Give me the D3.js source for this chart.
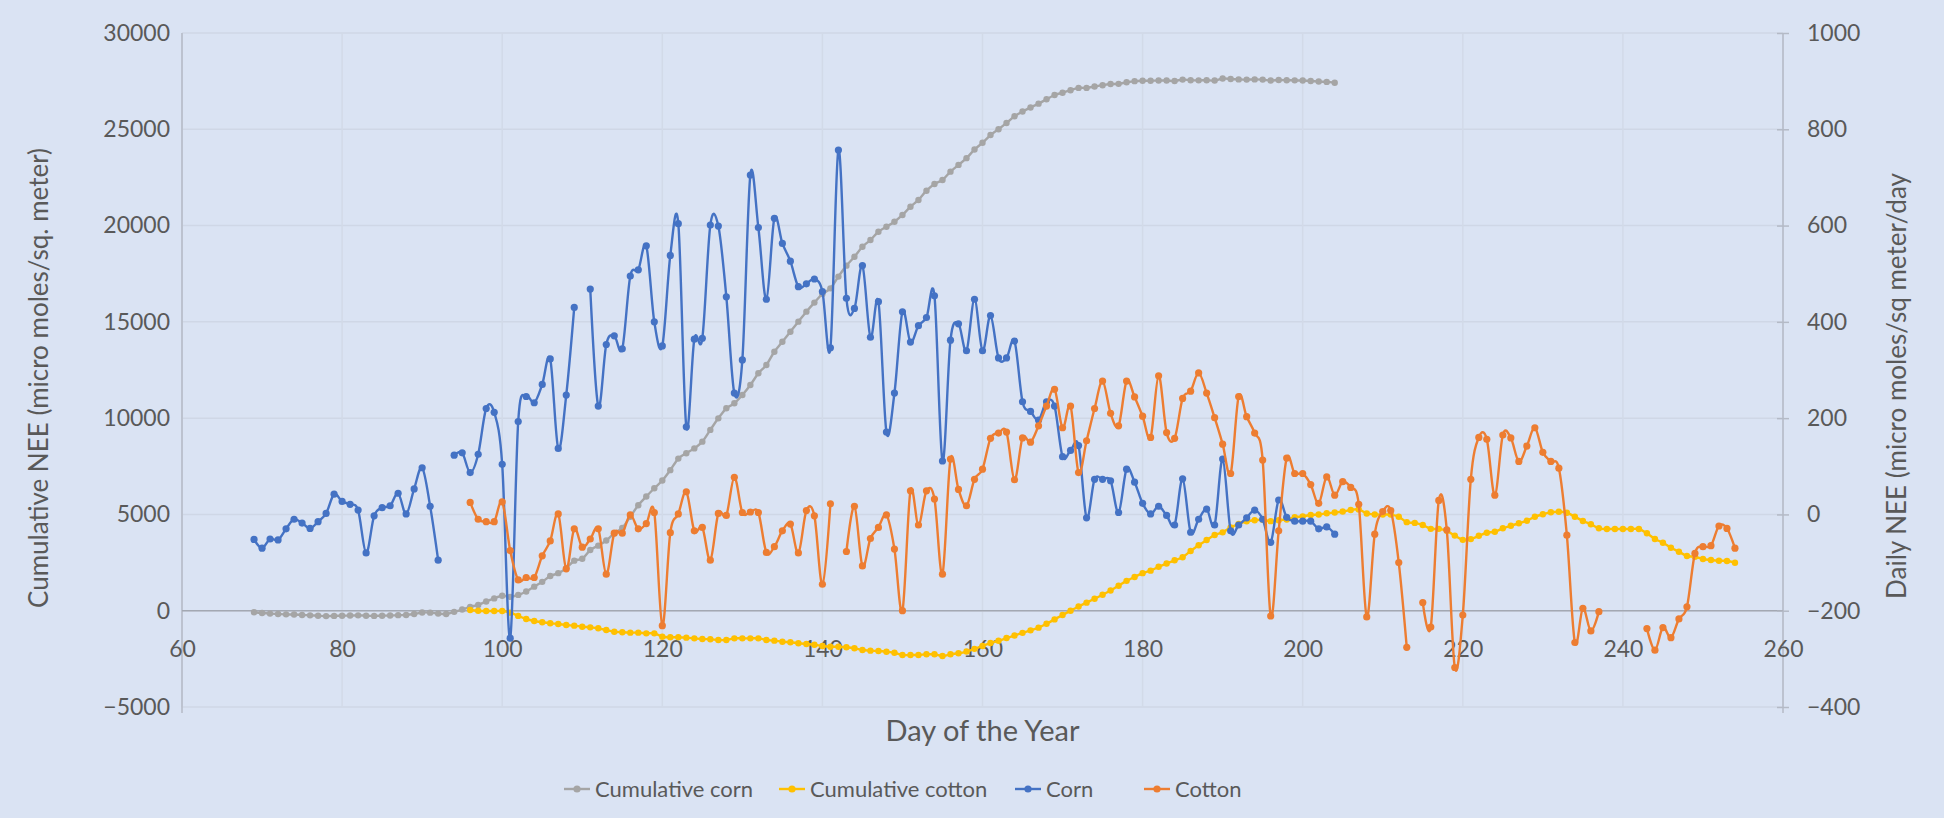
<!DOCTYPE html>
<html><head><meta charset="utf-8">
<script src="https://cdn.jsdelivr.net/npm/d3@7"></script>
<style>
body{margin:0;background:#dae3f3;}
svg{display:block;font-family:Lato,'Open Sans',sans-serif;}
</style>
</head><body>
<svg id="chart" width="1944" height="818"></svg>
<script>
// ---------- DATA ----------
const xTicks = [60,80,100,120,140,160,180,200,220,240,260];
const leftTicks = [-5000,0,5000,10000,15000,20000,25000,30000];
const rightTicks = [-400,-200,0,200,400,600,800,1000];
const seriesNames = ["Cumulative corn","Cumulative cotton","Corn","Cotton"];
const seriesColors = ["#a5a5a5","#ffc000","#4472c4","#ed7d31"];

// Cumulative corn (left axis), days 69..204
const cumCornFirstDay = 69;
const cumCorn = [
-80,-120,-150,-170,-190,-200,-220,-240,-260,-280,-270,-260,-250,-240,-260,-270,-260,-250,-230,-220,
-170,-90,-100,-150,-170,-60,60,200,300,480,640,780,720,820,1000,1250,1500,1800,1950,2200,
2600,2700,3150,3380,3650,4020,4300,4880,5480,5930,6360,6760,7300,7900,8180,8430,8780,9390,9990,10510,
10770,11200,11720,12330,12760,13450,13970,14490,15010,15530,16000,16450,16740,17350,17920,18380,18900,19250,19680,19940,
20200,20550,20980,21330,21810,22160,22370,22800,23150,23500,23950,24300,24700,25000,25330,25680,25920,26130,26330,26560,
26780,26900,27030,27150,27150,27220,27290,27350,27360,27440,27500,27520,27520,27530,27530,27510,27580,27550,27540,27550,
27530,27640,27610,27590,27580,27590,27580,27530,27560,27550,27540,27530,27510,27480,27460,27420
];

// Cumulative cotton (left axis), days 96..254
const cumCottonFirstDay = 96;
const cumCotton = [
37,0,-15,-15,-15,-100,-270,-430,-534,-600,-654,-690,-742,-776,-830,-864,-914,-1000,-1090,-1120,
-1140,-1140,-1175,-1175,-1350,-1380,-1380,-1400,-1435,-1470,-1485,-1520,-1520,-1435,-1435,-1435,-1435,-1520,-1555,-1610,
-1640,-1690,-1728,-1765,-1832,-1870,-1870,-1900,-1950,-2040,-2075,-2092,-2128,-2180,-2300,-2300,-2300,-2264,-2264,-2352,
-2264,-2210,-2120,-1980,-1830,-1680,-1560,-1420,-1290,-1150,-1020,-880,-680,-450,-220,0,220,420,620,830,
1050,1300,1550,1750,1950,2080,2280,2450,2620,2780,3100,3400,3670,3930,4070,4330,4500,4640,4700,4720,
4650,4700,4740,4850,4900,4970,5000,5060,5100,5150,5230,5260,5050,5000,4990,4990,4880,4600,4560,4450,
4250,4250,4150,3900,3680,3720,3890,4050,4100,4280,4415,4540,4675,4880,5010,5110,5140,5090,4880,4660,
4490,4280,4243,4243,4243,4243,4243,4020,3724,3532,3272,3065,2842,2805,2686,2634,2597,2582,2494
];

// Daily corn NEE (right axis), days 69..204 (null = missing)
const cornFirstDay = 69;
const cornDaily = [
-52,-70,-51,-53,-30,-10,-18,-29,-15,2,42,27,21,9,-80,-3,14,18,44,1,
53,97,17,-95,null,123,128,87,125,220,212,104,-257,193,245,232,270,323,137,248,
430,null,468,225,353,371,344,495,508,558,400,350,538,604,182,364,366,601,599,452,
252,321,705,596,447,615,563,526,473,479,489,463,346,757,449,428,517,368,442,171,
252,421,358,392,409,454,111,362,396,340,447,340,413,325,325,360,234,214,196,234,
225,120,133,143,-7,73,73,70,4,94,67,23,1,17,-2,-22,74,-37,-10,11,
-22,115,-34,-22,-7,9,-10,-58,30,-6,-14,-14,-14,-30,-26,-41
];

// Daily cotton NEE (right axis), days 96..254 (null = missing)
const cottonFirstDay = 96;
const cottonDaily = [
25,-10,-15,-15,26,-75,-136,-131,-131,-86,-55,1,-113,-30,-68,-51,-30,-124,-39,-39,
-1,-30,-19,4,-231,-38,1,47,-34,-27,-95,2,-2,77,4,5,4,-79,-67,-34,
-20,-80,8,-3,-145,22,null,-77,17,-107,-50,-27,-1,-72,-200,49,-22,49,32,-124,
115,52,18,73,94,158,169,171,72,159,150,184,225,260,180,225,87,153,220,277,
210,184,277,244,204,160,288,170,158,241,256,294,252,201,146,85,245,203,169,113,
-211,-34,117,85,85,62,23,78,40,68,56,21,-213,-41,6,8,-100,-276,null,-183,
-234,29,-32,-318,-209,73,160,156,40,165,159,110,142,180,129,110,96,-43,-266,-195,
-242,-202,null,null,null,null,null,-237,-282,-235,-256,-217,-192,-81,-67,-65,-24,-29,-70
];

// ---------- CHART ----------
const svg = d3.select("#chart");
const W = 1944, H = 818;
const m = {left:182, right:1783, top:33, bottom:707};
svg.append("rect").attr("width",W).attr("height",H).attr("fill","#dae3f3");

const x = d3.scaleLinear().domain([60,260]).range([m.left,m.right]);
const yL = d3.scaleLinear().domain([-5000,30000]).range([m.bottom,m.top]);
const yR = d3.scaleLinear().domain([-400,1000]).range([m.bottom,m.top]);

const grid = svg.append("g");
grid.selectAll("line.h").data(leftTicks).join("line")
  .attr("x1",m.left).attr("x2",m.right)
  .attr("y1",d=>yL(d)).attr("y2",d=>yL(d))
  .attr("stroke","#cfd7e6").attr("stroke-width",1.5);
grid.selectAll("line.v").data(xTicks).join("line")
  .attr("x1",d=>x(d)).attr("x2",d=>x(d))
  .attr("y1",m.top).attr("y2",m.bottom)
  .attr("stroke","#d2dae8").attr("stroke-width",1.5);

// axes lines
svg.append("line").attr("x1",m.left).attr("x2",m.left).attr("y1",m.top).attr("y2",m.bottom+6)
  .attr("stroke","#b4bac6").attr("stroke-width",1.5);
svg.append("line").attr("x1",m.right).attr("x2",m.right).attr("y1",m.top).attr("y2",m.bottom+6)
  .attr("stroke","#b4bac6").attr("stroke-width",1.5);
svg.append("line").attr("x1",m.left).attr("x2",m.right).attr("y1",yL(0)).attr("y2",yL(0))
  .attr("stroke","#a3a8b2").attr("stroke-width",1.5);

const tickColor = "#595959";
// left axis
const gL = svg.append("g").attr("transform",`translate(${m.left},0)`)
  .call(d3.axisLeft(yL).tickValues(leftTicks).tickFormat(d3.format("d")).tickSize(0).tickPadding(12));
// right axis
const gR = svg.append("g").attr("transform",`translate(${m.right},0)`)
  .call(d3.axisRight(yR).tickValues(rightTicks).tickFormat(d3.format("d")).tickSize(8).tickPadding(16));
// bottom axis (labels placed below the zero line)
const gX = svg.append("g").attr("transform",`translate(0,${yL(0)})`)
  .call(d3.axisBottom(x).tickValues(xTicks).tickFormat(d3.format("d")).tickSize(0).tickPadding(30));
[gL,gR,gX].forEach(g=>{
  g.select(".domain").remove();
  g.selectAll("text").attr("fill",tickColor).attr("font-size",23).attr("font-family","Lato");
  g.selectAll("line").attr("stroke","#b4bac6").attr("stroke-width",1.5);
});
gR.selectAll(".tick line").attr("x1",-6).attr("x2",6);

// titles
svg.append("text").attr("transform",`translate(48,378) rotate(-90)`)
  .attr("text-anchor","middle").attr("fill",tickColor).attr("font-size",26)
  .text("Cumulative NEE (micro moles/sq. meter)");
svg.append("text").attr("transform",`translate(1906,386) rotate(-90)`)
  .attr("text-anchor","middle").attr("fill",tickColor).attr("font-size",26)
  .text("Daily NEE (micro moles/sq meter/day");
svg.append("text").attr("x",(m.left+m.right)/2).attr("y",741)
  .attr("text-anchor","middle").attr("fill",tickColor).attr("font-size",29)
  .text("Day of the Year");

// series
function mk(first, vals){ return vals.map((v,i)=>({d:first+i, v})); }
const series = [
  {data:mk(cumCornFirstDay,cumCorn), y:yL, c:seriesColors[0], r:3.2},
  {data:mk(cumCottonFirstDay,cumCotton), y:yL, c:seriesColors[1], r:3.2},
  {data:mk(cornFirstDay,cornDaily), y:yR, c:seriesColors[2], r:3.6},
  {data:mk(cottonFirstDay,cottonDaily), y:yR, c:seriesColors[3], r:3.6}
];
const gS = svg.append("g");
series.forEach(s=>{
  const line = d3.line().defined(p=>p.v!==null).x(p=>x(p.d)).y(p=>s.y(p.v))
    .curve(d3.curveCardinal.tension(0));
  gS.append("path").attr("d",line(s.data)).attr("fill","none")
    .attr("stroke",s.c).attr("stroke-width",2.4).attr("stroke-linejoin","round");
  gS.append("g").selectAll("circle").data(s.data.filter(p=>p.v!==null)).join("circle")
    .attr("cx",p=>x(p.d)).attr("cy",p=>s.y(p.v)).attr("r",s.r).attr("fill",s.c);
});

// legend
const legX = [564,779,1015,1144];
const leg = svg.append("g");
seriesNames.forEach((n,i)=>{
  const g = leg.append("g").attr("transform",`translate(${legX[i]},789)`);
  g.append("line").attr("x1",0).attr("x2",26).attr("stroke",seriesColors[i]).attr("stroke-width",2.4);
  g.append("circle").attr("cx",13).attr("r",3.6).attr("fill",seriesColors[i]);
  g.append("text").attr("x",31).attr("y",8).attr("fill",tickColor).attr("font-size",22).text(n);
});
</script>
</body></html>
